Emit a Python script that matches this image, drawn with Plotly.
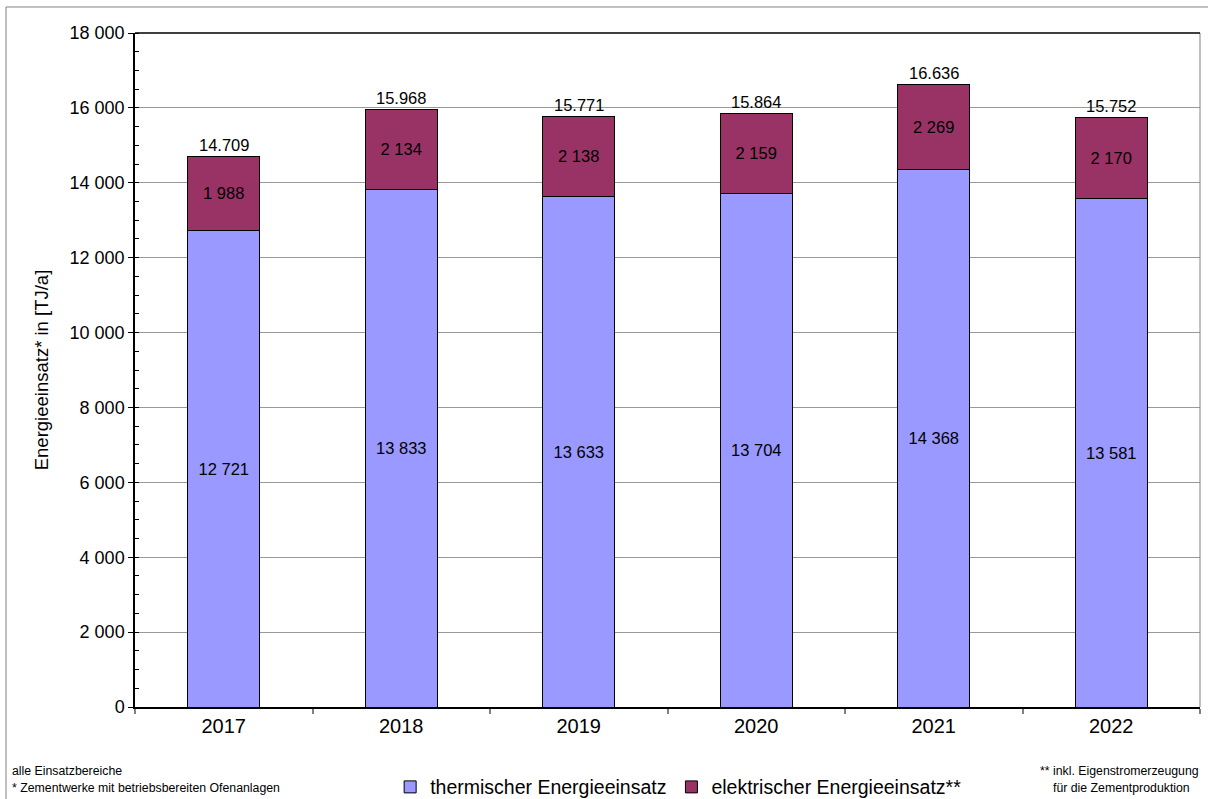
import plotly.graph_objects as go

years = ["2017", "2018", "2019", "2020", "2021", "2022"]
thermisch = [12721, 13833, 13633, 13704, 14368, 13581]
elektrisch = [1988, 2134, 2138, 2159, 2269, 2170]
gesamt = [14709, 15968, 15771, 15864, 16636, 15752]
y_ticks = [0, 2000, 4000, 6000, 8000, 10000, 12000, 14000, 16000, 18000]

FONT = "Liberation Sans, Arial, sans-serif"


def fmt_space(v):
    return f"{v:,}".replace(",", " ")


def fmt_dot(v):
    return f"{v:,}".replace(",", ".")


fig = go.Figure()
fig.add_trace(go.Bar(
    x=years, y=thermisch, name="thermischer Energieeinsatz",
    marker=dict(color="#9999FF", line=dict(color="#000000", width=1)),
    text=[fmt_space(v) for v in thermisch], textposition="inside",
    insidetextanchor="middle", textangle=0,
    textfont=dict(family=FONT, size=16.5, color="#000000"),
    hoverinfo="skip",
))
fig.add_trace(go.Bar(
    x=years, y=elektrisch, name="elektrischer Energieeinsatz**",
    marker=dict(color="#993366", line=dict(color="#000000", width=1)),
    text=[fmt_space(v) for v in elektrisch], textposition="inside",
    insidetextanchor="middle", textangle=0,
    textfont=dict(family=FONT, size=16.5, color="#000000"),
    hoverinfo="skip",
))

# totals above each stack (positioned by category index)
for i, tot in enumerate(gesamt):
    fig.add_annotation(x=i, y=tot, xref="x", yref="y", text=fmt_dot(tot),
                       showarrow=False, yanchor="bottom", yshift=0,
                       font=dict(family=FONT, size=16.5, color="#000000"))

# footnotes
fig.add_annotation(xref="paper", yref="paper", x=-0.117, y=-0.095,
                   xanchor="left", yanchor="middle", align="left",
                   text="alle Einsatzbereiche", showarrow=False,
                   font=dict(family=FONT, size=12.3, color="#000000"))
fig.add_annotation(xref="paper", yref="paper", x=-0.117, y=-0.120,
                   xanchor="left", yanchor="middle", align="left",
                   text="* Zementwerke mit betriebsbereiten Ofenanlagen", showarrow=False,
                   font=dict(family=FONT, size=12.3, color="#000000"))
fig.add_annotation(xref="paper", yref="paper", x=0.924, y=-0.095,
                   xanchor="center", yanchor="middle",
                   text="** inkl. Eigenstromerzeugung", showarrow=False,
                   font=dict(family=FONT, size=12.3, color="#000000"))
fig.add_annotation(xref="paper", yref="paper", x=0.926, y=-0.120,
                   xanchor="center", yanchor="middle",
                   text="für die Zementproduktion", showarrow=False,
                   font=dict(family=FONT, size=12.3, color="#000000"))

# outer frame of the chart area
fig.add_shape(type="rect", xref="paper", yref="paper",
              x0=-0.1211, y0=-0.2, x1=1.05, y1=1.0386,
              line=dict(color="#808080", width=1), fillcolor="rgba(0,0,0,0)",
              layer="below")
# right border of the plot area
fig.add_shape(type="line", xref="paper", yref="paper",
              x0=1, y0=0, x1=1, y1=1, line=dict(color="#808080", width=1))
# top border of the plot area
fig.add_shape(type="line", xref="paper", yref="paper",
              x0=0, y0=1, x1=1, y1=1, line=dict(color="#000000", width=1.5))

fig.update_layout(
    barmode="stack",
    bargap=0.594,
    width=1208, height=799,
    margin=dict(l=135, r=8, t=33, b=92, autoexpand=False),
    paper_bgcolor="#FFFFFF", plot_bgcolor="#FFFFFF",
    font=dict(family=FONT, color="#000000"),
    showlegend=True,
    legend=dict(orientation="h", traceorder="normal",
                x=0.510, xanchor="center", y=-0.119, yanchor="middle",
                font=dict(family=FONT, size=19.5, color="#000000"),
                itemwidth=30, bgcolor="rgba(0,0,0,0)"),
    xaxis=dict(
        type="category", range=[-0.5, 5.5], autorange=False,
        showline=True, linecolor="#000000", linewidth=1.5,
        ticks="outside", tickson="boundaries", ticklen=5,
        tickcolor="#808080", tickwidth=2,
        tickfont=dict(family=FONT, size=20, color="#000000"),
        showgrid=False,
    ),
    yaxis=dict(
        range=[0, 18000], autorange=False, tickvals=y_ticks,
        ticktext=[fmt_space(v) for v in y_ticks],
        showline=True, linecolor="#000000", linewidth=1.5,
        ticks="outside", ticklen=5, tickcolor="#000000",
        tickfont=dict(family=FONT, size=18, color="#000000"),
        showgrid=True, gridcolor="#999999", gridwidth=1,
        zeroline=False,
        minor=dict(dtick=500, ticks="inside", ticklen=4, tickcolor="#000000",
                   showgrid=False),
        title=dict(text="Energieeinsatz* in [TJ/a]",
                   font=dict(family=FONT, size=18.5, color="#000000"), standoff=16),
    ),
)

fig.write_html("out.html")
